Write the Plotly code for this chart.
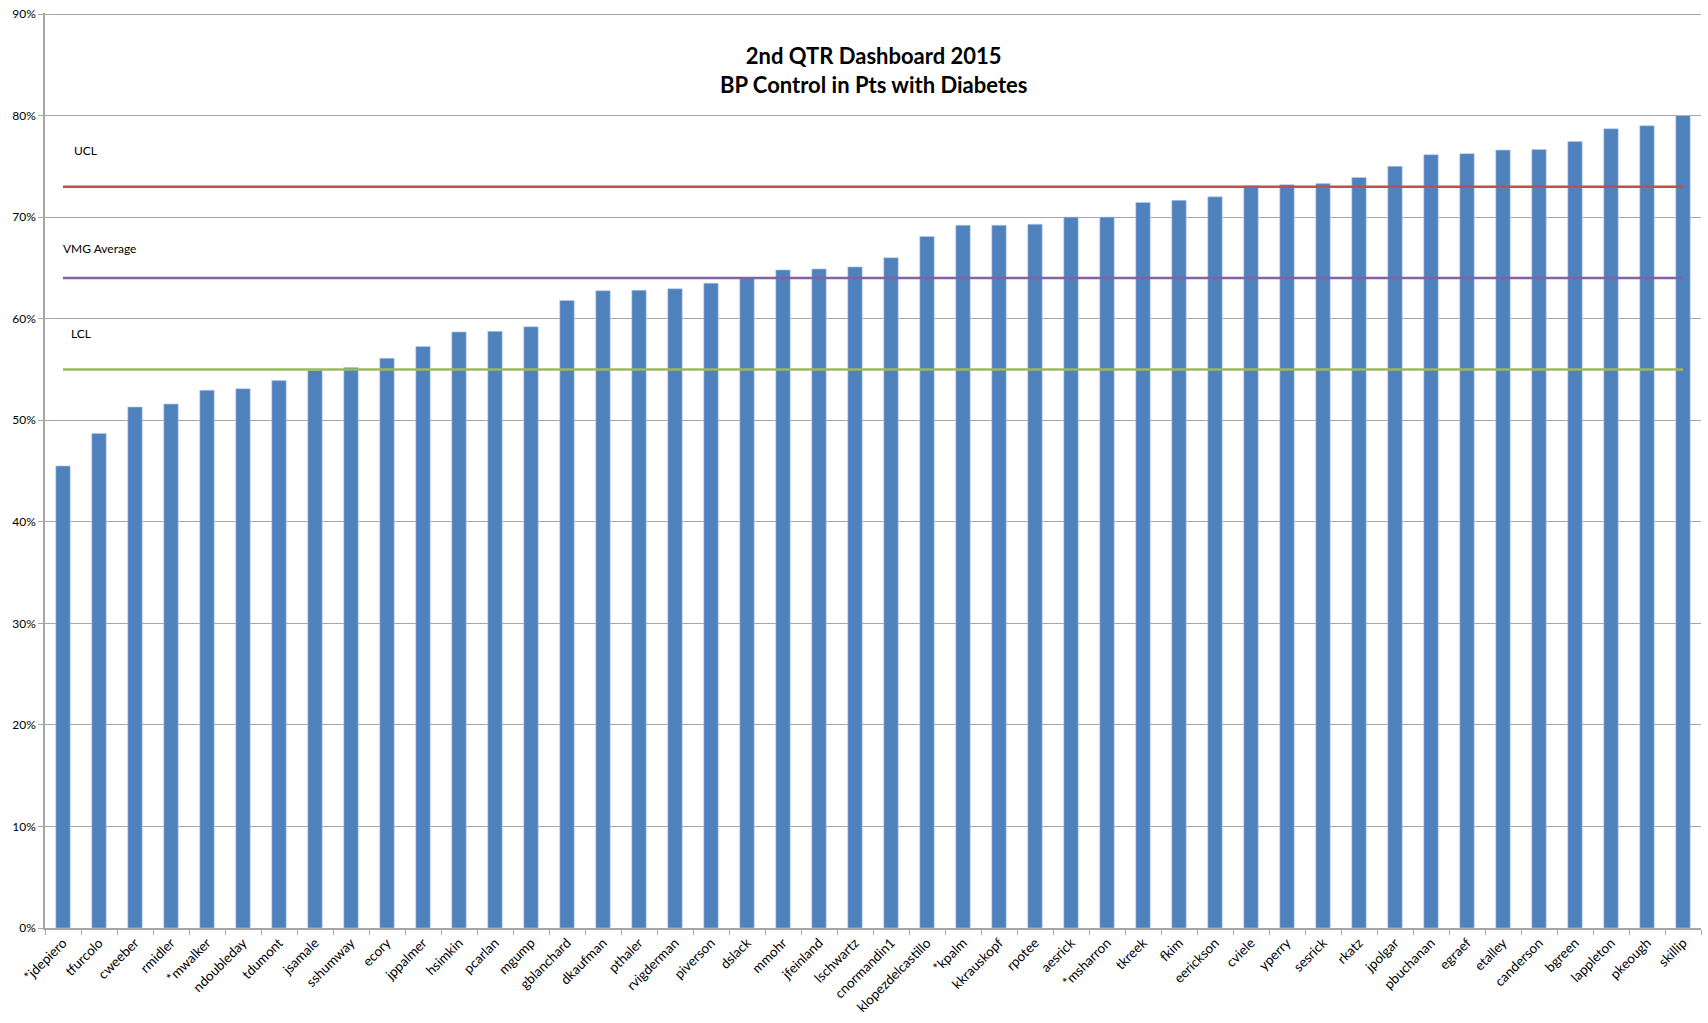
import plotly.graph_objects as go

providers = ["*jdepiero", "tfurcolo", "cweeber", "rmidler", "*mwalker", "ndoubleday", "tdumont",
             "jsamale", "sshumway", "ecory", "jppalmer", "hsimkin", "pcarlan", "mgump", "gblanchard",
             "dkaufman", "pthaler", "rvigderman", "piverson", "dslack", "mmohr", "jfeinland",
             "lschwartz", "cnormandin1", "klopezdelcastillo", "*kpalm", "kkrauskopf", "rpotee",
             "aesrick", "*msharron", "tkreek", "fkim", "eerickson", "cviele", "yperry", "sesrick",
             "rkatz", "jpolgar", "pbuchanan", "egraef", "etalley", "canderson", "bgreen",
             "lappleton", "pkeough", "skillip"]

bp_control = [45.5, 48.7, 51.3, 51.6, 52.95, 53.1, 53.9, 54.9, 55.2, 56.1, 57.25, 58.7, 58.75,
              59.2, 61.8, 62.75, 62.8, 62.95, 63.5, 64.0, 64.8, 64.9, 65.1, 66.0, 68.1, 69.2,
              69.2, 69.3, 70.0, 70.0, 71.45, 71.65, 72.0, 73.1, 73.2, 73.3, 73.9, 75.0, 76.15,
              76.25, 76.6, 76.65, 77.45, 78.7, 79.0, 80.0]

ucl_value = 73
vmg_average_value = 64
lcl_value = 55

y_ticks = [0, 10, 20, 30, 40, 50, 60, 70, 80, 90]
y_tick_labels = ["0%", "10%", "20%", "30%", "40%", "50%", "60%", "70%", "80%", "90%"]

FONT = "Lato, 'Open Sans', sans-serif"

fig = go.Figure()
fig.add_trace(go.Bar(
    x=providers, y=bp_control,
    marker=dict(color="#4F81BD", line=dict(color="#B9CDE5", width=0.6)),
    name="BP Control", showlegend=False,
))

for val, color, name in [(ucl_value, "#C0504D", "UCL"),
                         (vmg_average_value, "#8064A2", "VMG Average"),
                         (lcl_value, "#9BBB59", "LCL")]:
    fig.add_trace(go.Scatter(
        x=providers, y=[val] * len(providers), mode="lines",
        line=dict(color=color, width=2.5), name=name, showlegend=False,
    ))

label_specs = [("UCL", ucl_value, 9, 36), ("VMG Average", vmg_average_value, -2, 30),
               ("LCL", lcl_value, 6, 36)]
for text, val, xs, ys in label_specs:
    fig.add_annotation(x=providers[0], y=val, text=text, showarrow=False,
                       xanchor="left", yanchor="middle", xshift=xs, yshift=ys,
                       font=dict(family=FONT, size=12, color="#000000"))

fig.add_annotation(
    x=0.5, y=0.938, xref="paper", yref="paper",
    text="<b>2nd QTR Dashboard 2015<br>BP Control in Pts with Diabetes</b>",
    showarrow=False, xanchor="center", yanchor="middle",
    font=dict(family=FONT, size=22, color="#000000"),
)

fig.update_layout(
    width=1708, height=1023,
    margin=dict(l=45, r=7, t=13, b=95),
    paper_bgcolor="white", plot_bgcolor="white",
    bargap=0.6,
    font=dict(family=FONT, size=12, color="#000000"),
    xaxis=dict(
        type="category", tickangle=-45, tickson="boundaries", automargin=False,
        ticks="outside", ticklen=5, tickcolor="#A6A6A6",
        showline=True, linecolor="#A6A6A6", linewidth=1.5,
        showgrid=False, tickfont=dict(family=FONT, size=13.5, color="#000000"),
    ),
    yaxis=dict(
        range=[0, 90.1], tickvals=y_ticks, ticktext=y_tick_labels, automargin=False,
        ticks="outside", ticklen=5, tickcolor="#A6A6A6",
        showline=True, linecolor="#A6A6A6", linewidth=1.5,
        showgrid=True, gridcolor="#A6A6A6", gridwidth=1,
        zeroline=False, tickfont=dict(family=FONT, size=12, color="#000000"),
    ),
)

fig.write_html(
    "out.html",
    config={"displayModeBar": False},
    post_script="document.body.style.margin='0px';document.body.style.overflow='hidden';",
)
